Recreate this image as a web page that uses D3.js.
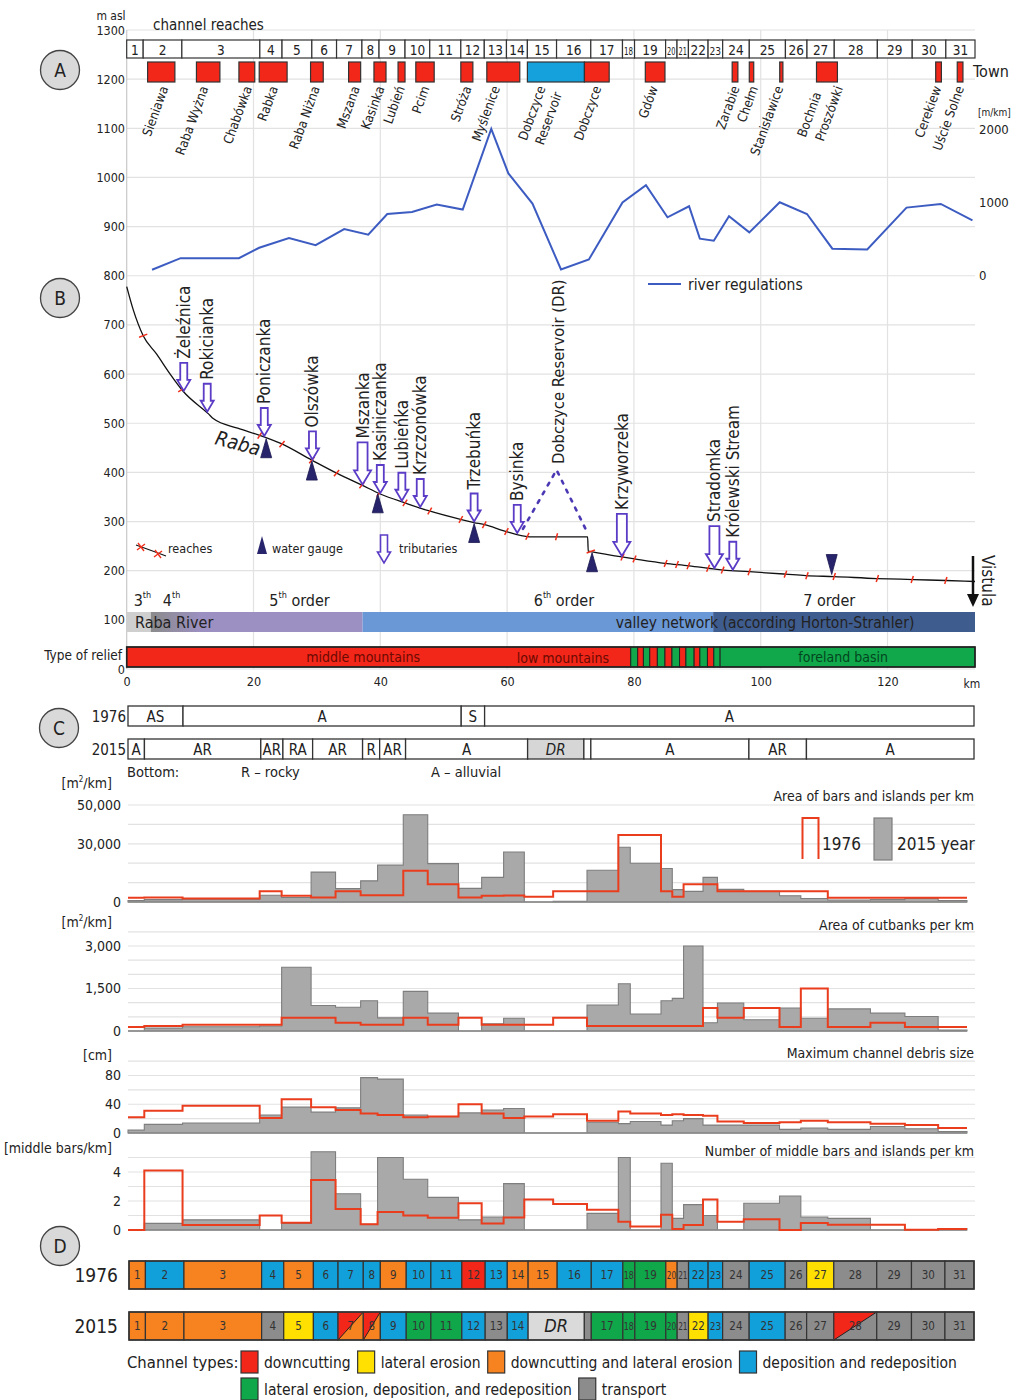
<!DOCTYPE html>
<html>
<head>
<meta charset="utf-8">
<title>Raba River</title>
<script src="https://cdn.jsdelivr.net/npm/d3@7"></script>
<style>
  body { margin: 0; background: #fff; }
  svg text { font-family: "Liberation Sans Narrow", "Arial Narrow", "DejaVu Sans Condensed", sans-serif; fill: #222; }
</style>
</head>
<body>
<svg id="chart" width="1012" height="1400"></svg>
<script>
'use strict';

// ---------------- data ----------------
var riverKm = 133.8;
// reach boundaries along the river [km], 31 reaches
var reachKm = [0, 2.6, 8.7, 21.0, 24.5, 29.2, 33.1, 37.1, 39.8, 43.9, 47.8, 52.7, 56.4, 59.9, 63.2, 67.8, 73.2,
  78.2, 80.1, 85.0, 86.8, 88.6, 91.7, 94.0, 98.2, 103.9, 107.3, 111.6, 118.4, 123.9, 129.2, 133.8];
var damKm = [72.1, 73.2];

var townBoxKm = [[3.3, 7.6], [11.0, 14.7], [17.7, 20.2], [20.9, 25.3], [29.0, 31.0], [35.0, 36.9], [39.0, 40.9],
  [42.8, 43.9], [45.6, 48.5], [52.7, 54.6], [56.8, 62.0], [63.2, 72.2], [72.2, 76.1], [81.8, 84.9], [95.5, 96.4],
  [98.2, 98.9], [103.0, 103.5], [108.8, 112.1], [127.6, 128.5], [131.0, 131.9]];
var townBoxType = ['t', 't', 't', 't', 't', 't', 't', 't', 't', 't', 't', 'r', 't', 't', 't', 't', 't', 't', 't', 't'];
var townLabels = ['Sieniawa', 'Raba Wyżna', 'Chabówka', 'Rabka', 'Raba Niżna', 'Mszana', 'Kasinka', 'Lubień', 'Pcim',
  'Stróża', 'Myślenice', 'Dobczyce', 'Reservoir', 'Dobczyce', 'Gdów', 'Zarabie', 'Chełm', 'Stanisławice', 'Bochnia',
  'Proszówki', 'Cerekiew', 'Uście Solne'];
var townLabelKm = [6.6, 12.9, 19.8, 23.9, 30.5, 36.8, 40.7, 43.9, 47.8, 54.4, 58.9, 66.1, 68.7, 74.9, 83.8, 96.7,
  99.6, 103.6, 109.6, 113.0, 128.5, 132.1];
var townLabelRow = [0, 0, 0, 0, 0, 0, 0, 0, 0, 0, 0, 0, 1, 0, 0, 0, 0, 0, 1, 0, 0, 0];

// river regulations [m/km]
var regKm = [4.0, 8.5, 17.7, 20.9, 25.6, 29.8, 34.3, 38.1, 41.1, 45.0, 48.9, 53.0, 57.5, 60.2, 64.0, 68.5, 72.9,
  78.2, 81.9, 85.3, 88.7, 90.4, 92.6, 95.0, 98.2, 103.0, 107.3, 111.3, 116.8, 123.0, 128.4, 133.4];
var regVal = [78, 237, 237, 379, 511, 415, 634, 558, 840, 867, 968, 900, 2000, 1393, 982, 82, 219, 996, 1233, 795,
  945, 503, 475, 808, 589, 1000, 840, 366, 356, 927, 977, 753];

// longitudinal profile [m asl]
var profileKm = [0, 1.05, 2.6, 4.7, 6.8, 8.9, 12.9, 13.7, 17.5, 21.1, 24.3, 29.2, 33.2, 37.1, 40.0, 44.1, 47.6,
  52.8, 54.8, 56.6, 59.5, 63.5, 72.7, 72.8, 73.2, 78.1, 80.1, 84.9, 88.7, 91.7, 94.1, 98.2, 103.9, 107.1, 111.6,
  118.3, 124.1, 129.2, 133.8];
var profileElev = [778, 730, 678, 641, 601, 565, 519, 509, 490, 475, 459, 425, 398, 374, 356, 337, 322, 304, 298,
  293, 281, 269, 269, 240, 239, 228, 224, 215, 210, 205, 201, 198, 193, 190, 188, 184, 182, 180, 178];
var reservoirKm = [62.5, 67.8, 72.6];
var reservoirElev = [285, 405, 279];

var tributaries = ['Żeleźnica', 'Rokicianka', 'Poniczanka', 'Olszówka', 'Mszanka', 'Kasiniczanka', 'Lubieńka',
  'Krzczonówka', 'Trzebuńka', 'Bysinka', 'Krzyworzeka', 'Stradomka', 'Królewski Stream'];
var tributaryKm = [9.0, 12.7, 21.7, 29.3, 37.2, 40.0, 43.4, 46.3, 54.8, 61.6, 78.1, 92.7, 95.6];
var tributaryBig = [0, 0, 0, 0, 1, 0, 0, 0, 0, 0, 1, 1, 0];

var gaugeKm = [22.0, 29.2, 39.6, 54.8, 73.4, 111.2];
var gaugeAbove = [0, 0, 0, 0, 0, 1];

var orderLabels = ['3', '4', '5', '6', '7'];
var orderSuffix = ['th', 'th', 'th order', 'th order', ' order'];
var orderKm = [1.1, 5.7, 22.5, 64.2, 106.7];
var networkKm = [0, 3.8, 37.2, 92.5, 133.8];

var reliefKm = [0, 79.5, 80.6, 81.5, 82.5, 83.7, 84.9, 86.0, 87.2, 88.2, 89.5, 90.4, 91.6, 92.6, 93.6, 133.8];
var reliefType = ['m', 'f', 'm', 'f', 'm', 'f', 'm', 'f', 'm', 'f', 'm', 'f', 'm', 'f', 'f'];

var elevTicks = [0, 100, 200, 300, 400, 500, 600, 700, 800, 900, 1000, 1100, 1200, 1300];
var kmTicks = [0, 20, 40, 60, 80, 100, 120];
var regTicks = [0, 1000, 2000];

// bottom substrate: [label, first reach, last reach]
var substrate1976 = [['AS', 1, 2], ['A', 3, 11], ['S', 12, 12], ['A', 13, 31]];
var substrate2015 = [['A', 1, 1], ['AR', 2, 3], ['AR', 4, 4], ['RA', 5, 5], ['AR', 6, 7], ['R', 8, 8], ['AR', 9, 9],
  ['A', 10, 14], ['DR', 15, 16], ['A', 17, 24], ['AR', 25, 26], ['A', 27, 31]];

// per-reach values, reaches 1..31
var bars1976 = [2200, 2300, 1800, 5500, 3200, 2300, 5500, 3500, 3500, 16100, 9100, 2300, 3200, 3400, 2700, 5500,
  5500, 34600, 34600, 5500, 2700, 9100, 9100, 5500, 5500, 5500, 5500, 2200, 2200, 2200, 2200];
var bars2015 = [800, 1200, 1500, 3500, 2300, 15400, 6900, 10900, 19000, 45000, 19800, 7000, 12700, 25800, 0, 400,
  16400, 28200, 20000, 17300, 6400, 5500, 12700, 6500, 5500, 3200, 1800, 1000, 1200, 1800, 800];
var cut1976 = [140, 175, 220, 220, 465, 465, 290, 220, 220, 465, 220, 465, 220, 220, 220, 465, 180, 180, 180, 180,
  180, 180, 810, 465, 810, 140, 1500, 140, 290, 140, 140];
var cut2015 = [0, 100, 150, 175, 2250, 900, 840, 1070, 465, 1400, 630, 0, 255, 450, 0, 0, 920, 1670, 600, 1070,
  1150, 3000, 290, 990, 395, 810, 450, 780, 630, 510, 30];
var debris1976 = [22, 31, 38, 21, 47, 36, 32, 27, 25, 22, 23, 40, 27, 21, 23, 26, 17, 30, 27, 25, 26, 25, 24, 16,
  14, 15, 17, 15, 13, 11, 7];
var debris2015 = [4, 12, 14, 25, 36, 29, 35, 77, 75, 25, 23, 28, 32, 34, 0, 0, 15, 13, 16, 11, 17, 20, 11, 11, 11,
  5, 7, 5, 9, 6, 2];
var middle1976 = [0, 4.1, 0.35, 1.0, 0.5, 3.45, 1.45, 0.4, 1.25, 1.0, 0.85, 1.85, 0.45, 0.87, 2.1, 1.8, 1.4, 0.57,
  0.25, 1.05, 0.07, 0.35, 2.1, 0.57, 0.75, 0, 0.48, 0.37, 0.37, 0.02, 0.07];
var middle2015 = [0, 0.46, 0.7, 0, 0.46, 5.4, 2.5, 0.4, 5.0, 3.5, 2.25, 0.7, 0.9, 3.2, 0, 0, 1.15, 5.0, 0, 4.6, 0.8,
  1.75, 1.0, 0, 1.85, 2.35, 0.9, 0.8, 0, 0, 0.1];

// channel types per reach
var types1976 = ['cl', 'd', 'cl', 'd', 'cl', 'd', 'd', 'd', 'cl', 'd', 'd', 'c', 'd', 'cl', 'cl', 'd', 'd', 'ld',
  'ld', 'cl', 't', 'd', 'd', 't', 'd', 't', 'l', 't', 't', 't', 't'];
var types2015 = ['cl', 'cl', 'cl', 't', 'l', 'd', 'c/cl', 'c/cl', 'd', 'ld', 'ld', 'd', 't', 'd', 'res', 'res', 'ld',
  'ld', 'ld', 'ld', 't', 'l', 'd', 't', 'd', 't', 't', 'c/t', 't', 't', 't'];
var typeNames = [['c', 'downcutting'], ['l', 'lateral erosion'], ['cl', 'downcutting and lateral erosion'],
  ['d', 'deposition and redeposition'], ['ld', 'lateral erosion, deposition, and redeposition'], ['t', 'transport']];

// ---------------- setup ----------------
var RED = '#f3261a', BLUE_REG = '#3d5cc2', STEP_RED = '#ea3d1e';
var typeColor = { c: '#f3261a', l: '#ffe000', cl: '#f68220', d: '#12a0da', ld: '#10a74a', t: '#8c8c8c', res: '#dadada' };

var svg = d3.select('#chart');
svg.append('rect').attr('width', 1012).attr('height', 1400).attr('fill', '#fff');

var xAB = d3.scaleLinear().domain([0, riverKm]).range([126.7, 975]);
var yElev = d3.scaleLinear().domain([0, 1300]).range([669, 30]);
var yReg = d3.scaleLinear().domain([0, 2000]).range([275.5, 129]);
var xC = d3.scaleLinear().domain([0, riverKm]).range([128, 967]);
var xRow = d3.scaleLinear().domain([0, riverKm]).range([128, 974]);
var xD = d3.scaleLinear().domain([0, riverKm]).range([129, 974]);

function txt(g, x, y, s, size, anchor) {
  return g.append('text').attr('x', x).attr('y', y).attr('font-size', size)
    .attr('text-anchor', anchor || 'start').text(s);
}
function fitText(sel, maxW) {
  sel.each(function () {
    if (this.getComputedTextLength() > maxW) {
      d3.select(this).attr('textLength', maxW).attr('lengthAdjust', 'spacingAndGlyphs');
    }
  });
}
function elevAt(km) {
  var i = d3.bisectRight(profileKm, km) - 1;
  i = Math.max(0, Math.min(profileKm.length - 2, i));
  var t = (km - profileKm[i]) / (profileKm[i + 1] - profileKm[i]);
  return profileElev[i] + t * (profileElev[i + 1] - profileElev[i]);
}
function circleLabel(cx, cy, s) {
  svg.append('circle').attr('cx', cx).attr('cy', cy).attr('r', 19.5)
    .attr('fill', '#d9d9d9').attr('stroke', '#444').attr('stroke-width', 1.3);
  txt(svg, cx, cy + 7, s, 19, 'middle');
}

// ---------------- A / B : grid ----------------
var gAB = svg.append('g');
gAB.selectAll('line.hg').data(elevTicks).enter().append('line')
  .attr('x1', xAB(0)).attr('x2', xAB(riverKm))
  .attr('y1', function (d) { return yElev(d); }).attr('y2', function (d) { return yElev(d); })
  .attr('stroke', '#e2e2e2').attr('stroke-width', 1.2);
gAB.selectAll('line.vg').data(kmTicks).enter().append('line')
  .attr('x1', function (d) { return xAB(d); }).attr('x2', function (d) { return xAB(d); })
  .attr('y1', 30).attr('y2', 669)
  .attr('stroke', function (d) { return d === 0 ? '#c8c8c8' : '#e2e2e2'; }).attr('stroke-width', 1.2);

var axL = gAB.append('g').attr('transform', 'translate(125,0)')
  .call(d3.axisLeft(yElev).tickValues(elevTicks).tickSize(0).tickPadding(0).tickFormat(d3.format('d')));
axL.select('.domain').remove();
axL.attr('font-size', 12.5);

var axR = gAB.append('g').attr('transform', 'translate(978,0)')
  .call(d3.axisRight(yReg).tickValues(regTicks).tickSize(0).tickPadding(1).tickFormat(d3.format('d')));
axR.select('.domain').remove();
axR.attr('font-size', 13);
txt(gAB, 978, 116, '[m/km]', 10);

var axB = gAB.append('g').attr('transform', 'translate(0,677)')
  .call(d3.axisBottom(xAB).tickValues(kmTicks).tickSize(0).tickPadding(0));
axB.select('.domain').remove();
axB.attr('font-size', 12.5);
txt(gAB, 972, 688, 'km', 12, 'middle');
txt(gAB, 111, 20, 'm asl', 12, 'middle');

// ---------------- A : reaches and towns ----------------
txt(svg, 153, 30, 'channel reaches', 15);
var reaches = d3.range(31);
svg.selectAll('rect.reach').data(reaches).enter().append('rect')
  .attr('x', function (i) { return xAB(reachKm[i]); })
  .attr('width', function (i) { return xAB(reachKm[i + 1]) - xAB(reachKm[i]); })
  .attr('y', 40).attr('height', 18)
  .attr('fill', '#fff').attr('stroke', '#333').attr('stroke-width', 1.2);
svg.selectAll('text.reach').data(reaches).enter().append('text')
  .attr('x', function (i) { return (xAB(reachKm[i]) + xAB(reachKm[i + 1])) / 2; })
  .attr('y', 55)
  .attr('font-size', function (i) { return xAB(reachKm[i + 1]) - xAB(reachKm[i]) < 16 ? 10.5 : 13.5; })
  .attr('text-anchor', 'middle')
  .text(function (i) { return i + 1; })
  .each(function (i) { fitText(d3.select(this), xAB(reachKm[i + 1]) - xAB(reachKm[i]) - 3); });

svg.selectAll('rect.town').data(townBoxKm).enter().append('rect')
  .attr('x', function (d) { return xAB(d[0]); })
  .attr('width', function (d) { return xAB(d[1]) - xAB(d[0]); })
  .attr('y', 62).attr('height', 20)
  .attr('fill', function (d, i) { return townBoxType[i] === 'r' ? '#15a1db' : RED; })
  .attr('stroke', '#333').attr('stroke-width', 1.2);
txt(svg, 973, 77, 'Town', 16);
svg.selectAll('text.town').data(townLabels).enter().append('text')
  .attr('font-size', 13).attr('text-anchor', 'end')
  .attr('transform', function (d, i) {
    return 'translate(' + xAB(townLabelKm[i]) + ',' + (88 + townLabelRow[i] * 6) + ') rotate(-70)';
  })
  .text(function (d) { return d; });

// river regulations
var regLine = d3.line()
  .x(function (d, i) { return xAB(regKm[i]); })
  .y(function (d) { return yReg(d); });
svg.append('path').attr('d', regLine(regVal)).attr('fill', 'none')
  .attr('stroke', BLUE_REG).attr('stroke-width', 2);
svg.append('line').attr('x1', 648).attr('x2', 681).attr('y1', 284).attr('y2', 284)
  .attr('stroke', BLUE_REG).attr('stroke-width', 2);
txt(svg, 688, 290, 'river regulations', 15.5);

// ---------------- B : profile ----------------
var profLine = d3.line()
  .x(function (d, i) { return xAB(profileKm[i]); })
  .y(function (d) { return yElev(d); })
  .curve(d3.curveMonotoneX);
svg.append('path').attr('d', profLine(profileElev)).attr('fill', 'none')
  .attr('stroke', '#111').attr('stroke-width', 1.3);

// reach ticks on the profile
svg.selectAll('line.rt').data(reachKm.slice(1, 31)).enter().append('line')
  .each(function (k) {
    var px = xAB(k), py = yElev(elevAt(k));
    var dx = xAB(k + 0.6) - xAB(k - 0.6), dy = yElev(elevAt(k + 0.6)) - yElev(elevAt(k - 0.6));
    var L = Math.sqrt(dx * dx + dy * dy), nx = -dy / L * 3.5, ny = dx / L * 3.5;
    d3.select(this).attr('x1', px - nx + 1).attr('y1', py - ny).attr('x2', px + nx - 1).attr('y2', py + ny);
  })
  .attr('stroke', '#f0301c').attr('stroke-width', 1.5);

// reservoir (dashed)
var resLine = d3.line()
  .x(function (d, i) { return xAB(reservoirKm[i]); })
  .y(function (d) { return yElev(d); });
svg.append('path').attr('d', resLine(reservoirElev)).attr('fill', 'none')
  .attr('stroke', '#4b39b4').attr('stroke-width', 2.6).attr('stroke-dasharray', '3,7')
  .attr('stroke-linecap', 'round');
svg.append('text').attr('font-size', 16.5)
  .attr('transform', 'translate(' + (xAB(reservoirKm[1]) + 7) + ',' + (yElev(reservoirElev[1]) - 6) + ') rotate(-90)')
  .text('Dobczyce Reservoir (DR)');

// water gauges
svg.selectAll('path.gauge').data(gaugeKm).enter().append('path')
  .attr('d', function (k, i) {
    var x = xAB(k), y = yElev(elevAt(k));
    if (gaugeAbove[i]) return 'M' + x + ',' + (y - 2) + 'L' + (x + 5.5) + ',' + (y - 22) + 'L' + (x - 5.5) + ',' + (y - 22) + 'Z';
    return 'M' + x + ',' + (y + 1) + 'L' + (x + 5.5) + ',' + (y + 20) + 'L' + (x - 5.5) + ',' + (y + 20) + 'Z';
  })
  .attr('fill', '#27246b').attr('stroke', '#1a1850').attr('stroke-width', 0.8);

// tributaries
function arrowPath(x, tip, big) {
  var s = big ? 5 : 3.5, h = big ? 8.5 : 6.5, hl = big ? 14 : 11, L = big ? 42 : 28;
  var top = tip - L;
  return 'M' + (x - s) + ',' + top + 'L' + (x + s) + ',' + top + 'L' + (x + s) + ',' + (tip - hl) +
    'L' + (x + h) + ',' + (tip - hl) + 'L' + x + ',' + tip + 'L' + (x - h) + ',' + (tip - hl) +
    'L' + (x - s) + ',' + (tip - hl) + 'Z';
}
tributaryKm.forEach(function (k, i) {
  var x = xAB(k), tip = yElev(elevAt(k)) - 1;
  var big = tributaryBig[i];
  svg.append('path').attr('d', arrowPath(x, tip, big))
    .attr('fill', '#fff').attr('stroke', '#5b3cc6').attr('stroke-width', 1.8);
  svg.append('text').attr('font-size', 17)
    .attr('transform', 'translate(' + (x + 6) + ',' + (tip - (big ? 42 : 28) - 4) + ') rotate(-90)')
    .text(tributaries[i]);
});

svg.append('text').attr('font-size', 20).attr('font-style', 'italic')
  .attr('transform', 'translate(214,444) rotate(15)').text('Raba');

// B legend
svg.append('path').attr('d', 'M136,545 Q150,550 166,556').attr('fill', 'none').attr('stroke', '#111').attr('stroke-width', 1.2);
[[141, 547], [158, 554]].forEach(function (p) {
  svg.append('path').attr('d', 'M' + (p[0] - 3) + ',' + (p[1] - 4) + 'L' + (p[0] + 3) + ',' + (p[1] + 4) +
    'M' + (p[0] + 4) + ',' + (p[1] - 3) + 'L' + (p[0] - 4) + ',' + (p[1] + 3))
    .attr('stroke', '#f0301c').attr('stroke-width', 1.4);
});
txt(svg, 168, 553, 'reaches', 12.5);
svg.append('path').attr('d', 'M262,536L267,554L257,554Z').attr('fill', '#27246b');
txt(svg, 272, 553, 'water gauge', 12.5);
svg.append('path').attr('d', arrowPath(384, 563, 0)).attr('fill', '#fff').attr('stroke', '#5b3cc6').attr('stroke-width', 1.6);
txt(svg, 399, 553, 'tributaries', 12.5);

// stream orders
orderLabels.forEach(function (o, i) {
  var t = svg.append('text').attr('x', xAB(orderKm[i])).attr('y', 606).attr('font-size', 16);
  t.append('tspan').text(o);
  var suf = orderSuffix[i];
  if (suf.charAt(0) === 't') {
    t.append('tspan').attr('font-size', 9).attr('dy', -8).text('th');
    if (suf.length > 2) t.append('tspan').attr('dy', 8).text(suf.slice(2));
  } else {
    t.append('tspan').text(suf);
  }
});

// valley network band
var defs = svg.append('defs');
var grad = defs.append('linearGradient').attr('id', 'netGrad').attr('gradientUnits', 'userSpaceOnUse')
  .attr('x1', xAB(networkKm[1])).attr('x2', xAB(12)).attr('y1', 0).attr('y2', 0);
grad.append('stop').attr('offset', 0).attr('stop-color', '#8b8b8b');
grad.append('stop').attr('offset', 1).attr('stop-color', '#9c90c3');
var netFill = ['#cfcfcf', 'url(#netGrad)', '#6a97d6', '#3f5c8f'];
svg.selectAll('rect.net').data(d3.range(4)).enter().append('rect')
  .attr('x', function (i) { return xAB(networkKm[i]); })
  .attr('width', function (i) { return xAB(networkKm[i + 1]) - xAB(networkKm[i]); })
  .attr('y', 612).attr('height', 20)
  .attr('fill', function (i) { return netFill[i]; });
txt(svg, 135, 628, 'Raba River', 16);
txt(svg, 765, 628, 'valley  network (according Horton-Strahler)', 15.5, 'middle');

// relief bar
svg.selectAll('rect.relief').data(reliefType).enter().append('rect')
  .attr('x', function (d, i) { return xAB(reliefKm[i]); })
  .attr('width', function (d, i) { return xAB(reliefKm[i + 1]) - xAB(reliefKm[i]); })
  .attr('y', 647).attr('height', 20)
  .attr('fill', function (d) { return d === 'm' ? '#f3261a' : '#10a84a'; })
  .attr('stroke', '#222').attr('stroke-width', 1);
svg.append('rect').attr('x', xAB(0)).attr('y', 647).attr('width', xAB(riverKm) - xAB(0)).attr('height', 20)
  .attr('fill', 'none').attr('stroke', '#222').attr('stroke-width', 1.6);
txt(svg, xAB(37.3), 662, 'middle mountains', 14, 'middle').style('fill', '#6a0a00');
txt(svg, xAB(68.8), 663, 'low mountains', 14, 'middle').style('fill', '#6a0a00');
txt(svg, xAB(113), 662, 'foreland basin', 14, 'middle').style('fill', '#04451f');
txt(svg, 122, 660, 'Type of relief', 13.5, 'end');

// Vistula
svg.append('line').attr('x1', 973).attr('x2', 973).attr('y1', 556).attr('y2', 596)
  .attr('stroke', '#111').attr('stroke-width', 2.5);
svg.append('path').attr('d', 'M967,594L979,594L973,607Z').attr('fill', '#111');
svg.append('text').attr('font-size', 17).attr('transform', 'translate(982,555) rotate(90)').text('Vistula');

circleLabel(60, 70, 'A');
circleLabel(60, 298, 'B');

// ---------------- C : substrate rows ----------------
circleLabel(59, 728, 'C');
function substrateRow(rows, y, year) {
  txt(svg, 126, y + 16, year, 15, 'end');
  rows.forEach(function (r) {
    var x0 = xRow(reachKm[r[1] - 1]), x1 = xRow(reachKm[r[2]]);
    var isDR = r[0] === 'DR';
    if (isDR) x1 = xRow(damKm[0]);
    svg.append('rect').attr('x', x0).attr('y', y).attr('width', x1 - x0).attr('height', 20)
      .attr('fill', isDR ? '#d6d6d6' : '#fff').attr('stroke', '#333').attr('stroke-width', 1.3);
    var t = txt(svg, (x0 + x1) / 2, y + 16, r[0], 15, 'middle');
    if (isDR) t.attr('font-style', 'italic');
    fitText(t, x1 - x0 - 2);
    if (isDR) {
      svg.append('rect').attr('x', xRow(damKm[0])).attr('y', y).attr('width', xRow(damKm[1]) - xRow(damKm[0]))
        .attr('height', 20).attr('fill', '#fff').attr('stroke', '#333').attr('stroke-width', 1.3);
    }
  });
}
substrateRow(substrate1976, 706, '1976');
substrateRow(substrate2015, 739, '2015');
txt(svg, 127, 777, 'Bottom:', 14.5);
txt(svg, 241, 777, 'R – rocky', 14.5);
txt(svg, 431, 777, 'A – alluvial', 14.5);

// ---------------- C : step charts ----------------
function stepChart(o) {
  var y = d3.scaleLinear().domain([0, o.max]).range([o.y0, o.yTop]);
  var g = svg.append('g');
  g.selectAll('line.g').data(o.grid).enter().append('line')
    .attr('x1', 128).attr('x2', 975)
    .attr('y1', function (d) { return y(d); }).attr('y2', function (d) { return y(d); })
    .attr('stroke', '#e2e2e2').attr('stroke-width', 1.2);
  function pts(vals) {
    var p = vals.map(function (v, i) { return [reachKm[i], v]; });
    p.push([reachKm[31], vals[30]]);
    return p;
  }
  var area = d3.area().curve(d3.curveStepAfter)
    .x(function (d) { return xC(d[0]); }).y0(y(0)).y1(function (d) { return y(d[1]); });
  var line = d3.line().curve(d3.curveStepAfter)
    .x(function (d) { return xC(d[0]); }).y(function (d) { return y(d[1]); });
  g.append('path').attr('d', area(pts(o.v2015))).attr('fill', '#a9a9a9')
    .attr('stroke', '#7e7e7e').attr('stroke-width', 1.1);
  g.append('line').attr('x1', xC(0)).attr('x2', xC(riverKm)).attr('y1', y(0)).attr('y2', y(0))
    .attr('stroke', '#8a8a8a').attr('stroke-width', 1.5);
  g.append('path').attr('d', line(pts(o.v1976))).attr('fill', 'none')
    .attr('stroke', STEP_RED).attr('stroke-width', 2);
  var ax = g.append('g').attr('transform', 'translate(121,0)')
    .call(d3.axisLeft(y).tickValues(o.ticks).tickSize(0).tickPadding(0).tickFormat(d3.format(',')));
  ax.select('.domain').remove();
  ax.attr('font-size', 14);
  var u = g.append('text').attr('x', 112).attr('y', o.unitY).attr('font-size', 14).attr('text-anchor', 'end');
  if (o.unit === 'm2') {
    u.append('tspan').text('[m');
    u.append('tspan').attr('font-size', 8).attr('dy', -6).text('2');
    u.append('tspan').attr('dy', 6).text('/km]');
  } else {
    u.text(o.unit);
  }
  txt(g, 974, o.titleY, o.title, 14, 'end');
}

stepChart({ v1976: bars1976, v2015: bars2015, max: 50000, y0: 902, yTop: 805,
  grid: [10000, 20000, 30000, 40000, 50000], ticks: [0, 30000, 50000],
  unit: 'm2', unitY: 788, title: 'Area of bars and islands per km', titleY: 801 });
stepChart({ v1976: cut1976, v2015: cut2015, max: 3000, y0: 1031, yTop: 946,
  grid: [500, 1000, 1500, 2000, 2500, 3000, 3500], ticks: [0, 1500, 3000],
  unit: 'm2', unitY: 927, title: 'Area of cutbanks per km', titleY: 930 });
stepChart({ v1976: debris1976, v2015: debris2015, max: 80, y0: 1133, yTop: 1075.5,
  grid: [20, 40, 60, 80, 100], ticks: [0, 40, 80],
  unit: '[cm]', unitY: 1060, title: 'Maximum channel debris size', titleY: 1058 });
stepChart({ v1976: middle1976, v2015: middle2015, max: 4, y0: 1230, yTop: 1172,
  grid: [1, 2, 3, 4, 5], ticks: [0, 2, 4],
  unit: '[middle bars/km]', unitY: 1153, title: 'Number of middle bars and islands per km', titleY: 1156 });

// legend of C
svg.append('path').attr('d', 'M802.5,859V818H818.5V859').attr('fill', 'none')
  .attr('stroke', STEP_RED).attr('stroke-width', 2);
txt(svg, 822, 850, '1976', 17);
svg.append('rect').attr('x', 874).attr('y', 818).attr('width', 18).attr('height', 42)
  .attr('fill', '#a9a9a9').attr('stroke', '#7e7e7e').attr('stroke-width', 1.2);
txt(svg, 897, 850, '2015 year', 17);

// ---------------- D : channel types ----------------
circleLabel(60, 1246, 'D');
function cellFill(g, x0, x1, y, h, code) {
  var parts = code.split('/');
  g.append('rect').attr('x', x0).attr('y', y).attr('width', x1 - x0).attr('height', h)
    .attr('fill', typeColor[parts[parts.length - 1]]);
  if (parts.length > 1) {
    g.append('path').attr('d', 'M' + x0 + ',' + (y + h) + 'L' + x0 + ',' + y + 'L' + x1 + ',' + y + 'Z')
      .attr('fill', typeColor[parts[0]]);
    g.append('line').attr('x1', x0).attr('y1', y + h).attr('x2', x1).attr('y2', y)
      .attr('stroke', '#222').attr('stroke-width', 1);
  }
}
function typeRow(types, y, year) {
  var h = 28, g = svg.append('g');
  txt(g, 118, y + 21, year, 19, 'end');
  types.forEach(function (code, i) {
    if (code === 'res' && i > 0 && types[i - 1] === 'res') return;
    var x0 = xD(reachKm[i]), x1 = xD(reachKm[i + 1]);
    if (code === 'res') {
      x1 = xD(damKm[0]);
      cellFill(g, x0, x1, y, h, code);
      g.append('rect').attr('x', x0).attr('y', y).attr('width', x1 - x0).attr('height', h)
        .attr('fill', 'none').attr('stroke', '#333').attr('stroke-width', 1.2);
      txt(g, (x0 + x1) / 2, y + 20, 'DR', 18, 'middle').attr('font-style', 'italic');
      g.append('rect').attr('x', x1).attr('y', y).attr('width', xD(damKm[1]) - x1).attr('height', h)
        .attr('fill', typeColor.t).attr('stroke', '#333').attr('stroke-width', 1.2);
      return;
    }
    cellFill(g, x0, x1, y, h, code);
    g.append('rect').attr('x', x0).attr('y', y).attr('width', x1 - x0).attr('height', h)
      .attr('fill', 'none').attr('stroke', '#333').attr('stroke-width', 1.2);
    var t = txt(g, (x0 + x1) / 2, y + 18, i + 1, x1 - x0 < 16 ? 10 : 11.5, 'middle').style('fill', '#333');
    fitText(t, x1 - x0 - 2);
  });
  g.append('rect').attr('x', xD(0)).attr('y', y).attr('width', xD(riverKm) - xD(0)).attr('height', h)
    .attr('fill', 'none').attr('stroke', '#333').attr('stroke-width', 1.5);
}
typeRow(types1976, 1261, '1976');
typeRow(types2015, 1312, '2015');

// legend of D
txt(svg, 127, 1368, 'Channel types:', 16.5);
var lx = 241, ly = 1351;
typeNames.forEach(function (tn, i) {
  if (i === 4) { lx = 241; ly = 1378; }
  svg.append('rect').attr('x', lx).attr('y', ly).attr('width', 17).attr('height', 22)
    .attr('fill', typeColor[tn[0]]).attr('stroke', '#333').attr('stroke-width', 1.2);
  var t = txt(svg, lx + 23, ly + 17, tn[1], 15.5);
  lx += 23 + t.node().getComputedTextLength() + 7;
});
</script>
</body>
</html>
